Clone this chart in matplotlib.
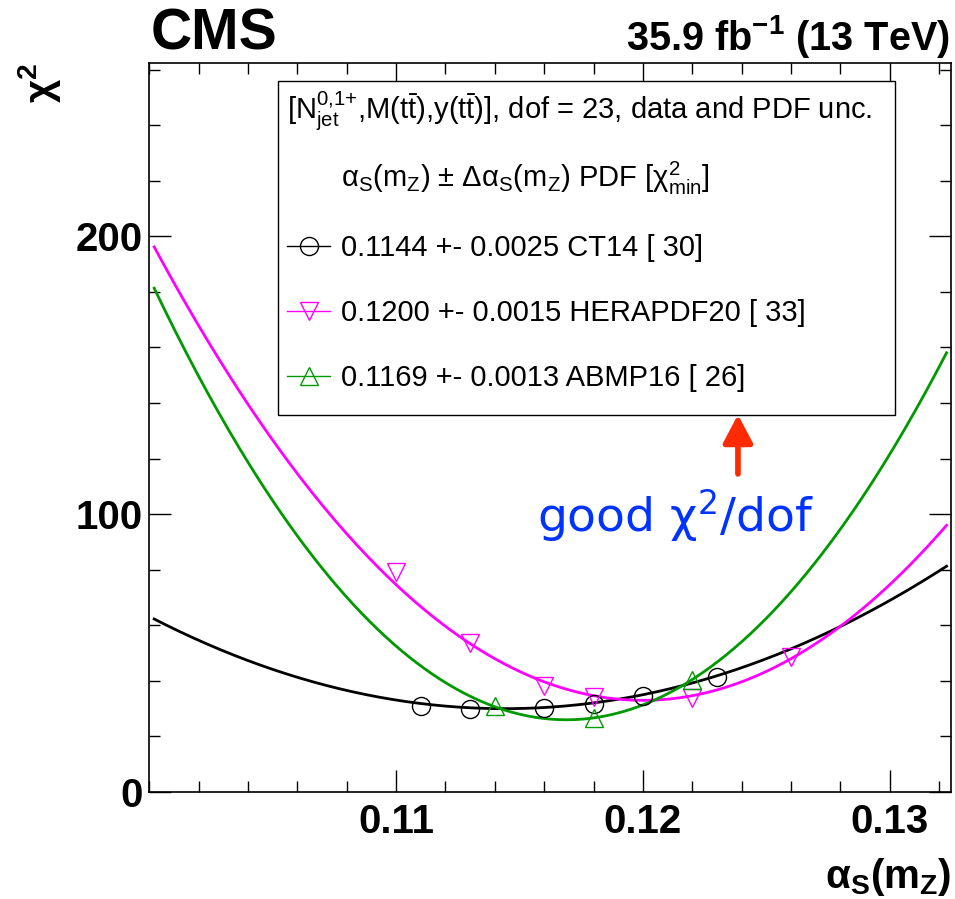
import matplotlib
matplotlib.use("Agg")
import numpy as np
import matplotlib.pyplot as plt
from matplotlib.lines import Line2D
from matplotlib.patches import Rectangle
from matplotlib.ticker import FixedLocator, MultipleLocator, FormatStrFormatter

plt.rcParams['font.family'] = ['Liberation Sans', 'DejaVu Sans']
plt.rcParams['mathtext.fontset'] = 'custom'
plt.rcParams['mathtext.rm'] = 'Liberation Sans'
plt.rcParams['mathtext.it'] = 'Liberation Sans:italic'
plt.rcParams['mathtext.bf'] = 'Liberation Sans:bold'

# chi2 scan points per PDF set
ct14_alpha = [0.111, 0.113, 0.116, 0.118, 0.120, 0.123]
ct14_chi2 = [31.0, 30.0, 30.1, 31.7, 34.6, 41.5]
hera_alpha = [0.110, 0.113, 0.116, 0.118, 0.122, 0.126]
hera_chi2 = [79.2, 53.5, 38.3, 34.2, 33.8, 48.5]
abmp_alpha = [0.114, 0.118, 0.122]
abmp_chi2 = [30.8, 26.6, 40.3]

# parabola fit results (legend values) and curve widths
pdf_names = ['CT14', 'HERAPDF20', 'ABMP16']
fit_alpha = [0.1144, 0.1200, 0.1169]
fit_error = [0.0025, 0.0015, 0.0013]
fit_chi2min = [30, 33, 26]
curve_width = [0.0025, 0.00155, 0.00134]

colors = ['black', '#ff00ff', '#009900']
markers = ['o', 'v', '^']
points = [(ct14_alpha, ct14_chi2), (hera_alpha, hera_chi2), (abmp_alpha, abmp_chi2)]

fig = plt.figure(figsize=(9.55, 8.99), dpi=100)
ax = fig.add_axes([0.1563, 0.119, 0.840, 0.8113])

alpha_grid = np.linspace(0.1002, 0.1323, 300)
for i in range(3):
    curve = fit_chi2min[i] + ((alpha_grid - fit_alpha[i]) / curve_width[i]) ** 2
    ax.plot(alpha_grid, curve, color=colors[i], lw=2.0, zorder=2)
for i in range(3):
    x, y = points[i]
    ax.plot(x, y, ls='none', marker=markers[i], ms=13, mfc='none',
            mec=colors[i], mew=1.0, zorder=3)

ax.set_xlim(0.100, 0.1325)
ax.set_ylim(0, 262.5)
ax.xaxis.set_major_locator(FixedLocator([0.11, 0.12, 0.13]))
ax.xaxis.set_minor_locator(MultipleLocator(0.002))
ax.xaxis.set_major_formatter(FormatStrFormatter('%.2f'))
ax.yaxis.set_major_locator(FixedLocator([0, 100, 200]))
ax.yaxis.set_minor_locator(MultipleLocator(20))
ax.yaxis.set_major_formatter(FormatStrFormatter('%d'))
ax.tick_params(which='both', direction='in', top=True, right=True, width=1.0)
ax.tick_params(which='major', length=16, labelsize=29)
ax.tick_params(which='minor', length=8)
ax.tick_params(axis='x', pad=8)
ax.tick_params(axis='y', pad=4.5)
for lab in ax.get_xticklabels() + ax.get_yticklabels():
    lab.set_fontweight('bold')
for sp in ax.spines.values():
    sp.set_linewidth(1.2)

ax.set_xlabel(r'α$_{\bf S}$(m$_{\bf Z}$)', loc='right', fontsize=29,
              fontweight='bold', labelpad=11)
ax.set_ylabel(r'χ$^{\bf 2}$', loc='top', fontsize=29, fontweight='bold',
              labelpad=9)

# legend: box drawn separately so its size can follow the original
legend_box = (0.1604, 0.517, 0.769, 0.458)
ax.add_patch(Rectangle(legend_box[:2], legend_box[2], legend_box[3],
                       transform=ax.transAxes, facecolor='white',
                       edgecolor='black', lw=1.0, zorder=4))
header = (r'[N$^{0{,}1{+}}_{\rm jet}$,M(t$\bar{\rm t}$),y(t$\bar{\rm t}$)], '
          'dof = 23, data and PDF unc.')
handles = [Line2D([], [], color='none',
                  label=r'α$_{\rm S}$(m$_{\rm Z}$) ± Δα$_{\rm S}$(m$_{\rm Z}$) '
                        r'PDF [χ$^{2}_{\rm min}$]')]
for i in range(3):
    handles.append(Line2D([], [], color=colors[i], lw=1.0, marker=markers[i],
                          ms=13, mfc='none', mew=1.0,
                          label='%.4f +- %.4f %s [ %d]' % (fit_alpha[i], fit_error[i],
                                                          pdf_names[i], fit_chi2min[i])))
leg = ax.legend(handles=handles, title=header, loc='upper left',
                bbox_to_anchor=legend_box, mode='expand',
                fontsize=21, title_fontsize=21, alignment='left',
                frameon=False, borderpad=0.3, labelspacing=1.275,
                handlelength=1.5, handletextpad=0.35, borderaxespad=0)
leg.set_zorder(5)
# tighter gap between the header line and the first row
leg._legend_box.sep = 19

# annotation
ax.annotate('', xy=(0.12385, 135.8), xytext=(0.12385, 114.5),
            arrowprops=dict(arrowstyle='-|>,head_length=0.85,head_width=0.45',
                            mutation_scale=20, color='#ff2a00', lw=4.1,
                            shrinkA=0, shrinkB=0))
ax.text(0.483, 0.357, r'good χ$^{\mathdefault{2}}$/dof', transform=ax.transAxes,
        family='DejaVu Sans', fontsize=34, color='#0033ff', va='baseline', ha='left')

fig.text(0.1575, 0.9444, 'CMS', fontsize=41, fontweight='bold', va='baseline')
fig.text(0.9948, 0.9444, r'35.9 fb$^{\mathdefault{-1}}$ (13 TeV)', fontsize=28.5,
         fontweight='bold', va='baseline', ha='right')

fig.savefig('out.png', dpi=100)
